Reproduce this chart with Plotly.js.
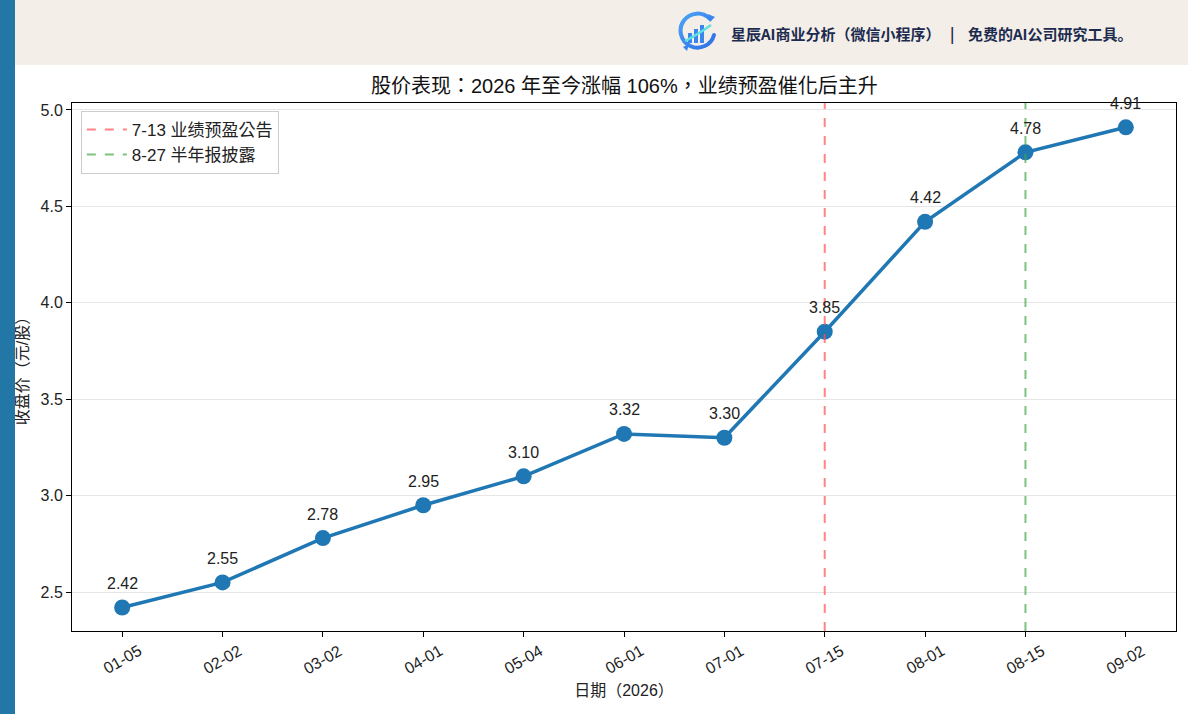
<!DOCTYPE html>
<html><head><meta charset="utf-8">
<script src="https://cdn.plot.ly/plotly-3.0.1.min.js"></script>
<style>
body{margin:0;padding:0;background:#fff;width:1188px;height:714px;overflow:hidden;position:relative;font-family:"Liberation Sans","Noto Sans CJK TC",sans-serif;}
#plot{position:absolute;left:0;top:0;width:1188px;height:714px;}
#bar{position:absolute;left:0;top:0;width:15px;height:714px;background:#2277a6;z-index:5;}
#hdr{position:absolute;left:15px;top:0;width:1173px;height:65px;background:#f3efe8;z-index:5;}
.ht{position:absolute;top:23px;font-size:15px;font-weight:bold;color:#1c2b4f;font-family:"Noto Sans CJK SC","Liberation Sans",sans-serif;white-space:pre;}
#logo{position:absolute;left:662px;top:11px;width:42px;height:42px;}
</style></head>
<body>
<div id="plot"></div>
<div id="bar"></div>
<div id="hdr">
<svg id="logo" viewBox="0 0 42 42">
<defs><linearGradient id="g" x1="0" y1="0" x2="1" y2="1"><stop offset="0" stop-color="#4aa3f5"/><stop offset="1" stop-color="#2f6fe8"/></linearGradient></defs>
<path d="M33 8 A17 17 0 1 0 37 24" fill="none" stroke="url(#g)" stroke-width="4" stroke-linecap="round"/>
<polygon points="31,3 38,6 33,11" fill="#3a86ee"/>
<rect x="11" y="22" width="4" height="10" fill="#3a86ee"/>
<rect x="17" y="18" width="4" height="14" fill="#3a86ee"/>
<rect x="23" y="14" width="4" height="18" fill="#3a86ee"/>
<path d="M8 30 Q20 24 34 14" fill="none" stroke="#5fe0e0" stroke-width="2.5"/>
<polygon points="6,36 12,33 10,40" fill="#3a86ee"/>
</svg>
<div class="ht" style="left:716px">星辰AI商业分析（微信小程序）</div>
<div class="ht" style="left:935px">|</div>
<div class="ht" style="left:953px">免费的AI公司研究工具。</div>
</div>
<script>
const dates = ["01-05","02-02","03-02","04-01","05-04","06-01","07-01","07-15","08-01","08-15","09-02"];
const prices = [2.42,2.55,2.78,2.95,3.10,3.32,3.30,3.85,4.42,4.78,4.91];
const eventDates = ["07-15","08-15"];
const eventLabels = ["7-13 业绩预盈公告","8-27 半年报披露"];
const eventColors = ["rgba(255,80,80,0.7)","rgba(70,170,70,0.7)"];
const yTicks = [2.5,3.0,3.5,4.0,4.5,5.0];

const FONT = '"Liberation Sans","Noto Sans CJK TC",sans-serif';

const traces = [{
  x: dates, y: prices, type:'scatter', mode:'lines+markers',
  line:{color:'#1f77b4', width:3.5},
  marker:{color:'#1f77b4', size:16},
  showlegend:false, hoverinfo:'skip'
}];
eventLabels.forEach((lab,i)=>{
  traces.push({x:[null], y:[null], type:'scatter', mode:'lines', name:lab,
    line:{color:eventColors[i], width:2, dash:'dash'}, showlegend:true});
});

const shapes = eventDates.map((d,i)=>({
  type:'line', xref:'x', yref:'paper', x0:d, x1:d, y0:0, y1:1,
  line:{color:eventColors[i], width:2, dash:'dash'}
}));

const annotations = dates.map((d,i)=>({
  x:d, y:prices[i], text:prices[i].toFixed(2), showarrow:false,
  yshift:24, font:{size:16, color:'#222', family:FONT}
}));
dates.forEach(d=>{
  annotations.push({x:d, xref:'x', y:0, yref:'paper', text:d, showarrow:false,
    textangle:-30, xanchor:'center', yanchor:'top', yshift:-8,
    font:{size:16, color:'#222', family:FONT}});
});

const layout = {
  width:1188, height:714,
  margin:{l:72, r:12, t:103, b:83},
  paper_bgcolor:'#fff', plot_bgcolor:'#fff',
  font:{family:FONT, color:'#222', size:16},
  title:{text:'股价表现：2026 年至今涨幅 106%，业绩预盈催化后主升', x:0.5255, xanchor:'center', y:0.88, yanchor:'middle', font:{size:20, color:'#111', family:FONT}},
  xaxis:{type:'category', range:[-0.5,10.5], tickvals:dates, showticklabels:false,
    showline:true, linecolor:'#000', linewidth:1, mirror:true, ticks:'outside', ticklen:5, tickcolor:'#000',
    showgrid:false, zeroline:false,
    title:{text:'日期（2026）', font:{size:16, color:'#222'}, standoff:48}},
  yaxis:{range:[2.298,5.036], tickvals:yTicks, ticktext:yTicks.map(v=>v.toFixed(1)),
    showline:true, linecolor:'#000', linewidth:1, mirror:true, ticks:'outside', ticklen:5, tickcolor:'#000',
    showgrid:true, gridcolor:'#e6e6e6', gridwidth:1, zeroline:false, tickfont:{size:16, color:'#222'},
    title:{text:'收盘价（元/股）', font:{size:16, color:'#222'}, standoff:7}},
  legend:{x:0.008, y:0.985, xanchor:'left', yanchor:'top', bgcolor:'rgba(255,255,255,0.9)',
    bordercolor:'#ccc', borderwidth:1, font:{size:17, color:'#222'}, tracegroupgap:0, itemwidth:40},
  shapes:shapes, annotations:annotations, showlegend:true
};
Plotly.newPlot('plot', traces, layout, {displayModeBar:false, staticPlot:true});
</script>
</body></html>
